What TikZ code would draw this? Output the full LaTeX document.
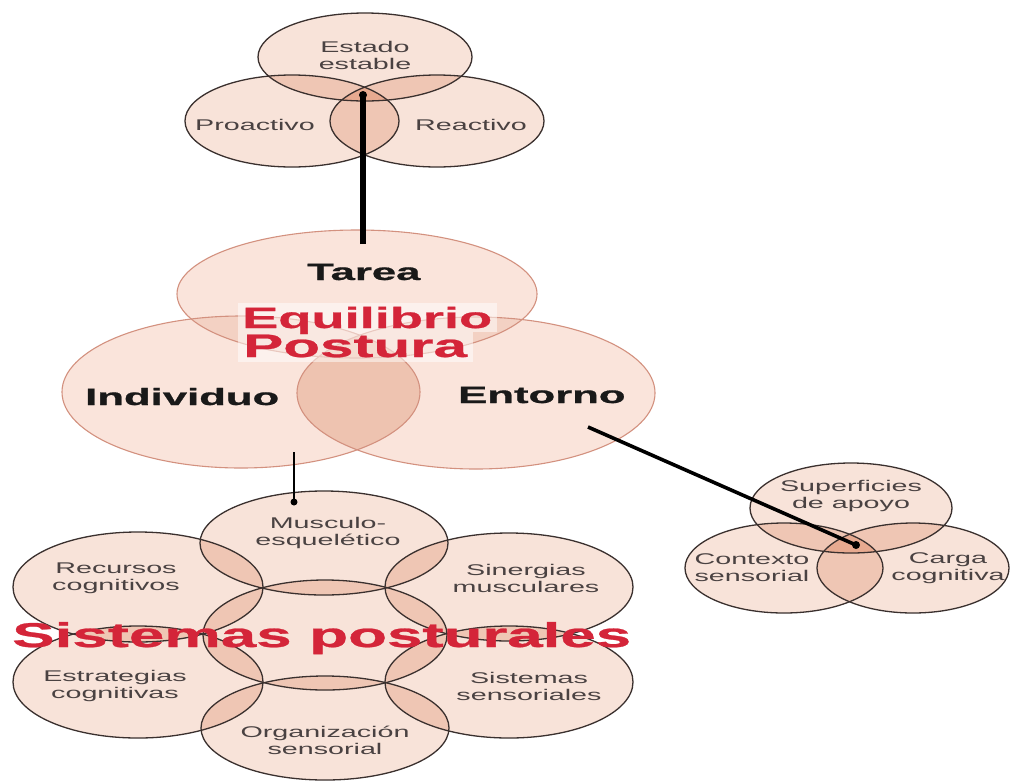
\documentclass[tikz,border=0pt]{standalone}
\usepackage{fontspec}
\setmainfont{Liberation Sans}
\newfontfamily\heavy[FakeBold=0.7]{Liberation Sans Bold}
\usetikzlibrary{shapes.geometric}
\definecolor{fillA}{HTML}{F8E3D9}
\definecolor{ovA}{HTML}{EFC6B4}
\definecolor{triA}{HTML}{E7AA90}
\definecolor{lineA}{HTML}{3A302E}
\definecolor{fillB}{HTML}{FAE4DB}
\definecolor{ovB}{HTML}{F3D1C3}
\definecolor{ovBb}{HTML}{EEC3B0}
\definecolor{triB}{HTML}{EBB9A4}
\definecolor{lineB}{HTML}{D3917F}
\definecolor{redT}{HTML}{D42539}
\definecolor{grayT}{HTML}{4A4242}
\newcommand{\EL}[4]{(#1,#2) ellipse [x radius=#3pt, y radius=#4pt]}
\newcommand{\hs}[1]{\scalebox{1.85}[1]{#1}}
\newcommand{\ov}[3]{\begin{scope}\clip #1; \fill[#3] #2;\end{scope}}
\tikzset{
  oA/.style={ellipse, draw=lineA, line width=1.3pt, inner sep=0pt},
  oB/.style={ellipse, draw=lineB, line width=1.1pt, inner sep=0pt},
  lab/.style={text=grayT, align=center, inner sep=0pt, font=\fontsize{15.5}{17}\selectfont},
  big/.style={text=black!90, inner sep=0pt, anchor=base west, font=\fontsize{23.6}{26}\selectfont\heavy},
  red/.style={text=redT, inner sep=0pt, anchor=base west},
  conn/.style={draw=black, line cap=butt},
}
\begin{document}
\begin{tikzpicture}[x=1pt,y=-1pt]
\useasboundingbox (0,0) rectangle (1011,780);
\fill[white] (0,0) rectangle (1011,780);

% ===== top Venn =====
\def\Ta{\EL{365}{57}{107}{44}}
\def\Tb{\EL{292}{121}{107}{46}}
\def\Tc{\EL{437}{121}{107}{46}}
\fill[fillA] \Ta; \fill[fillA] \Tb; \fill[fillA] \Tc;
\ov{\Ta}{\Tb}{ovA} \ov{\Ta}{\Tc}{ovA} \ov{\Tb}{\Tc}{ovA}
\begin{scope}\clip \Ta; \clip \Tb; \fill[triA] \Tc; \end{scope}
\node[oA, minimum width=214pt, minimum height=88pt] (estado) at (365,57) {};
\node[oA, minimum width=214pt, minimum height=92pt] (proac) at (292,121) {};
\node[oA, minimum width=214pt, minimum height=92pt] (reac) at (437,121) {};
\node[lab] (tEstado) at (365,55) {\hs{Estado}\\\hs{estable}};
\node[lab] (tProac) at (255,125) {\hs{Proactivo}};
\node[lab] (tReac) at (471,125) {\hs{Reactivo}};

% ===== main Venn =====
\def\Ma{\EL{357}{294}{180}{64}}
\def\Mb{\EL{241}{392}{179}{76}}
\def\Mc{\EL{476}{393}{179}{76}}
\fill[fillB] \Ma; \fill[fillB] \Mb; \fill[fillB] \Mc;
\ov{\Ma}{\Mb}{ovB} \ov{\Ma}{\Mc}{ovB} \ov{\Mb}{\Mc}{ovBb}
\begin{scope}\clip \Ma; \clip \Mb; \fill[triB] \Mc; \end{scope}
\node[oB, minimum width=360pt, minimum height=128pt] (tarea) at (357,294) {};
\node[oB, minimum width=358pt, minimum height=152pt] (indiv) at (241,392) {};
\node[oB, minimum width=358pt, minimum height=152pt] (ento) at (476,393) {};
\node[big] (tTarea) at (307,280) {\hs{Tarea}};
\node[big] (tIndiv) at (85,405) {\hs{Individuo}};
\node[big] (tEnto) at (458,403) {\hs{Entorno}};
\fill[white, opacity=0.5] (238,303) rectangle (497,332);
\fill[white, opacity=0.5] (238,332) rectangle (473,362);
\node[red, font=\fontsize{29.3}{32}\selectfont\heavy] (tEq) at (242,328) {\hs{Equilibrio}};
\node[red, font=\fontsize{32.5}{35}\selectfont\heavy] (tPos) at (243,357) {\hs{Postura}};

% ===== right Venn =====
\def\Ra{\EL{851}{508}{101}{45}}
\def\Rb{\EL{784}{568}{99}{45}}
\def\Rc{\EL{913}{568}{96}{45}}
\fill[fillA] \Ra; \fill[fillA] \Rb; \fill[fillA] \Rc;
\ov{\Ra}{\Rb}{ovA} \ov{\Ra}{\Rc}{ovA} \ov{\Rb}{\Rc}{ovA}
\begin{scope}\clip \Ra; \clip \Rb; \fill[triA] \Rc; \end{scope}
\node[oA, minimum width=202pt, minimum height=90pt] (superf) at (851,508) {};
\node[oA, minimum width=198pt, minimum height=90pt] (contex) at (784,568) {};
\node[oA, minimum width=192pt, minimum height=90pt] (carga) at (913,568) {};
\node[lab] (tSup) at (851,496) {\hs{Superficies}\\\hs{de apoyo}};
\node[lab] (tCon) at (752,568) {\hs{Contexto}\\\hs{sensorial}};
\node[lab] (tCar) at (948,568) {\hs{Carga}\\\hs{cognitiva}};

% ===== bottom cluster =====
\def\Bm{\EL{324}{543}{124}{52}}
\def\Bc{\EL{325}{635}{122}{55}}
\def\Bo{\EL{325}{728}{124}{52}}
\def\Br{\EL{138}{587}{125}{55}}
\def\Be{\EL{138}{682}{125}{56}}
\def\Bs{\EL{509}{587}{124}{54}}
\def\Bt{\EL{509}{682}{124}{56}}
\foreach \e in {\Bm,\Bc,\Bo,\Br,\Be,\Bs,\Bt} {\fill[fillA] \e;}
\ov{\Bm}{\Bc}{ovA} \ov{\Bc}{\Bo}{ovA}
\ov{\Bm}{\Br}{ovA} \ov{\Bm}{\Bs}{ovA}
\ov{\Bc}{\Br}{ovA} \ov{\Bc}{\Be}{ovA} \ov{\Bc}{\Bs}{ovA} \ov{\Bc}{\Bt}{ovA}
\ov{\Bo}{\Be}{ovA} \ov{\Bo}{\Bt}{ovA}
\ov{\Br}{\Be}{ovA} \ov{\Bs}{\Bt}{ovA}
\node[oA, minimum width=248pt, minimum height=104pt] (musc) at (324,543) {};
\node[oA, minimum width=244pt, minimum height=110pt] (centro) at (325,635) {};
\node[oA, minimum width=248pt, minimum height=104pt] (organ) at (325,728) {};
\node[oA, minimum width=250pt, minimum height=110pt] (recur) at (138,587) {};
\node[oA, minimum width=250pt, minimum height=112pt] (estra) at (138,682) {};
\node[oA, minimum width=248pt, minimum height=108pt] (siner) at (509,587) {};
\node[oA, minimum width=248pt, minimum height=112pt] (sisen) at (509,682) {};
\node[lab] (tMus) at (328,533) {\hs{Musculo-}\\\hs{esquelético}};
\node[lab] (tRec) at (116,578) {\hs{Recursos}\\\hs{cognitivos}};
\node[lab] (tEst) at (115,686) {\hs{Estrategias}\\\hs{cognitivas}};
\node[lab] (tSin) at (526,578) {\hs{Sinergias}\\\hs{musculares}};
\node[lab] (tSis) at (529,686) {\hs{Sistemas}\\\hs{sensoriales}};
\node[lab] (tOrg) at (325,740) {\hs{Organización}\\\hs{sensorial}};
\node[red, font=\fontsize{34.4}{37}\selectfont\heavy] (tSist) at (12,647) {\hs{Sistemas posturales}};

% ===== connectors =====
\coordinate (c1a) at (363,244);
\coordinate (c1b) at (363,95);
\coordinate (c2a) at (294,452);
\coordinate (c2b) at (294,502);
\coordinate (c3a) at (588,427);
\coordinate (c3b) at (856,545);
\draw[conn, line width=6pt] (c1a) -- (c1b);
\fill (c1b) circle[radius=4pt];
\draw[conn, line width=2.2pt] (c2a) -- (c2b);
\fill (c2b) circle[radius=3.5pt];
\draw[conn, line width=3.6pt] (c3a) -- (c3b);
\fill (c3b) circle[radius=4pt];
\end{tikzpicture}
\end{document}
